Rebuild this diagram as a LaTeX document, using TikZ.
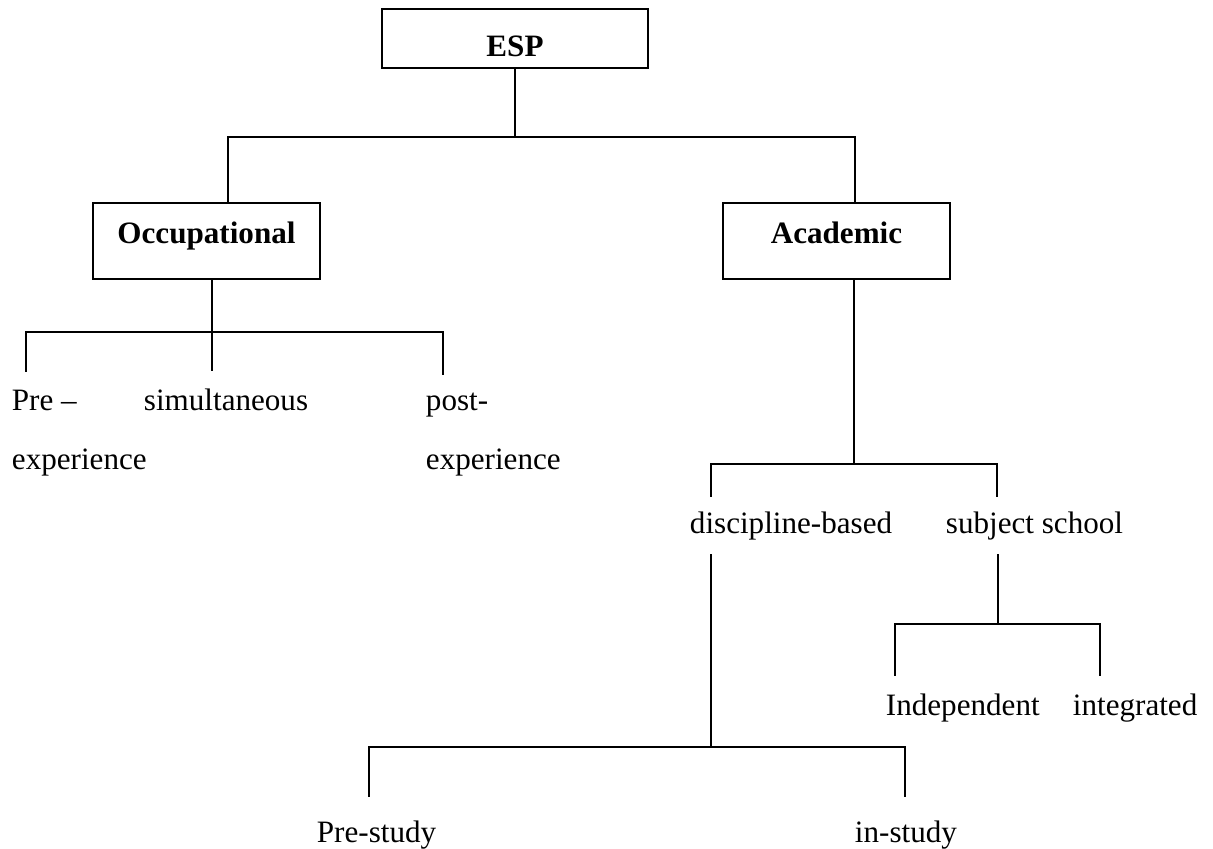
\documentclass[tikz,border=0pt]{standalone}
\usepackage{fontspec}
\setmainfont{Liberation Serif}
\usetikzlibrary{positioning}

\begin{document}
\begin{tikzpicture}[x=0.45pt, y=-0.45pt, line width=0.85pt,
    box/.style={draw, line width=1pt, inner xsep=0pt, inner ysep=0pt, font=\fontsize{14}{16}\selectfont\bfseries, anchor=base},
    leaf/.style={anchor=base west, inner sep=0pt, outer ysep=8pt, font=\fontsize{14}{16}\selectfont}]
    % Fix the page size to the reference
    \useasboundingbox (0,0) rectangle (1213,849);

    % Define the joints of the tree
    \coordinate (b1l) at (228,137);
    \coordinate (b1r) at (855,137);
    \coordinate (b2l) at (26,332);
    \coordinate (b2m) at (212,332);
    \coordinate (b2r) at (443,332);
    \coordinate (b3l) at (711,464);
    \coordinate (b3m) at (854,464);
    \coordinate (b3r) at (997,464);
    \coordinate (b4l) at (369,747);
    \coordinate (b4m) at (711,747);
    \coordinate (b4r) at (905,747);
    \coordinate (b5l) at (895,624);
    \coordinate (b5m) at (998,624);
    \coordinate (b5r) at (1100,624);

    % Draw the boxes
    \node[box, minimum width=119.7pt, text height=21.6pt, text depth=4.95pt] (esp) at (515,57) {ESP};
    \node[box, minimum width=102.15pt, text height=18pt, text depth=16.2pt] (occ) at (206.5,243) {Occupational};
    \node[box, minimum width=102.15pt, text height=18pt, text depth=16.2pt] (acad) at (836.5,243) {Academic};

    % Place the plain labels
    \node[leaf] (pre) at (11,410) {Pre --};
    \node[leaf] (sim) at (143,410) {simultaneous};
    \node[leaf] (post) at (425,410) {post-};
    \node[leaf] (preExp) at (11,469) {experience};
    \node[leaf] (postExp) at (425,469) {experience};
    \node[leaf, outer ysep=6.5pt] (disc) at (689,533) {discipline-based};
    \node[leaf, outer ysep=6.5pt] (subj) at (945,533) {subject school};
    \node[leaf] (indep) at (885,715) {Independent};
    \node[leaf] (integ) at (1072,715) {integrated};
    \node[leaf, outer ysep=10.7pt] (preStudy) at (316,842) {Pre-study};
    \node[leaf, outer ysep=10.7pt] (inStudy) at (854,842) {in-study};

    % ESP splits in two
    \draw (esp.south) -- (esp.south |- b1l);
    \draw (occ.north -| b1l) |- (b1r) -- (acad.north -| b1r);

    % Occupational branch
    \draw (occ.south -| b2m) -- (sim.north -| b2m);
    \draw (pre.north -| b2l) |- (b2r) -- (post.north -| b2r);

    % Academic branch
    \draw (acad.south -| b3m) -- (b3m);
    \draw (disc.north -| b3l) |- (b3r) -- (subj.north -| b3r);

    % Discipline-based branch
    \draw (disc.south -| b4m) -- (b4m);
    \draw (preStudy.north -| b4l) |- (b4r) -- (inStudy.north -| b4r);

    % Subject school branch
    \draw (subj.south -| b5m) -- (b5m);
    \draw (indep.north -| b5l) |- (b5r) -- (integ.north -| b5r);
\end{tikzpicture}
\end{document}
